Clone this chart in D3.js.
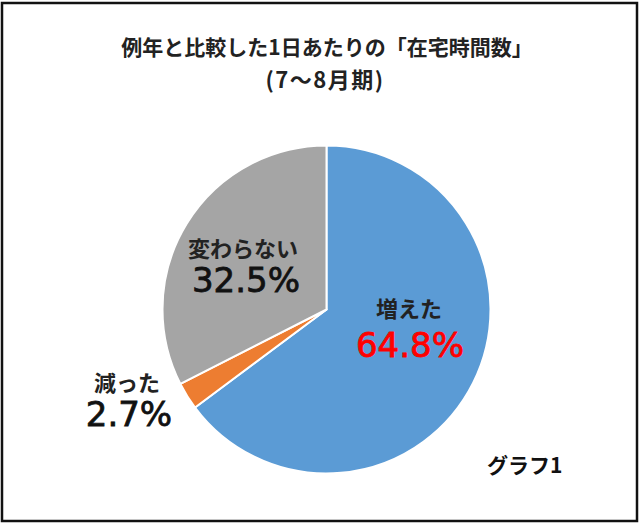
<!DOCTYPE html>
<html><head><meta charset="utf-8">
<script src="https://cdn.jsdelivr.net/npm/d3@7"></script>
<style>html,body{margin:0;padding:0;background:#fff;}svg{display:block;}</style>
</head><body>
<script>
const categories = ["増えた", "減った", "変わらない"];
const values = [64.8, 2.7, 32.5];
const valueLabels = ["64.8%", "2.7%", "32.5%"];
const colors = ["#5B9BD5", "#ED7D31", "#A5A5A5"];
const title = "例年と比較した1日あたりの「在宅時間数」";
const subtitle = "(7～8月期)";
const note = "グラフ1";

const W = 640, H = 524;
const font = "'Noto Sans CJK JP', 'Noto Sans', sans-serif";
const numFont = "'DejaVu Sans', Verdana, sans-serif";
const svg = d3.select("body").append("svg").attr("width", W).attr("height", H);
svg.append("rect").attr("x", 2).attr("y", 3).attr("width", 635).attr("height", 518)
  .attr("fill", "#fff").attr("stroke", "#111").attr("stroke-width", 2.5);

svg.append("text").attr("x", 327).attr("y", 55).attr("text-anchor", "middle")
  .attr("font-family", font).attr("font-weight", "bold").attr("font-size", 21).attr("fill", "#222").text(title);
svg.append("text").attr("x", 325).attr("y", 88).attr("text-anchor", "middle")
  .attr("font-family", font).attr("font-weight", "bold").attr("font-size", 22).attr("letter-spacing", 1.5)
  .attr("fill", "#222").text(subtitle);

const cx = 326.5, cy = 309.5, r = 164;
const pie = d3.pie().sort(null).value(d => d)(values);
const arc = d3.arc().innerRadius(0).outerRadius(r);
const g = svg.append("g").attr("transform", `translate(${cx},${cy})`);
g.selectAll("path").data(pie).join("path")
  .attr("d", arc).attr("fill", (d, i) => colors[i])
  .attr("stroke", "#fff").attr("stroke-width", 2).attr("stroke-linejoin", "round");

// label positions (absolute pixel anchors)
const labelPos = [
  {x: 409, y: 317, vx: 410, vy: 357, valColor: "#FF0000"},
  {x: 127, y: 391, vx: 129, vy: 426, valColor: "#111"},
  {x: 243, y: 257, vx: 246, vy: 292, valColor: "#111"}
];
labelPos.forEach((p, i) => {
  svg.append("text").attr("x", p.x).attr("y", p.y).attr("text-anchor", "middle")
    .attr("font-family", font).attr("font-weight", "bold").attr("font-size", 22).attr("fill", "#222")
    .text(categories[i]);
  svg.append("text").attr("x", p.vx).attr("y", p.vy).attr("text-anchor", "middle")
    .attr("font-family", numFont).attr("font-size", 34).attr("fill", p.valColor)
    .attr("stroke", p.valColor).attr("stroke-width", 0.8)
    .text(valueLabels[i]);
});

svg.append("text").attr("x", 487).attr("y", 473)
  .attr("font-family", font).attr("font-weight", "bold").attr("font-size", 21).attr("fill", "#111").text(note);
</script>
</body></html>
